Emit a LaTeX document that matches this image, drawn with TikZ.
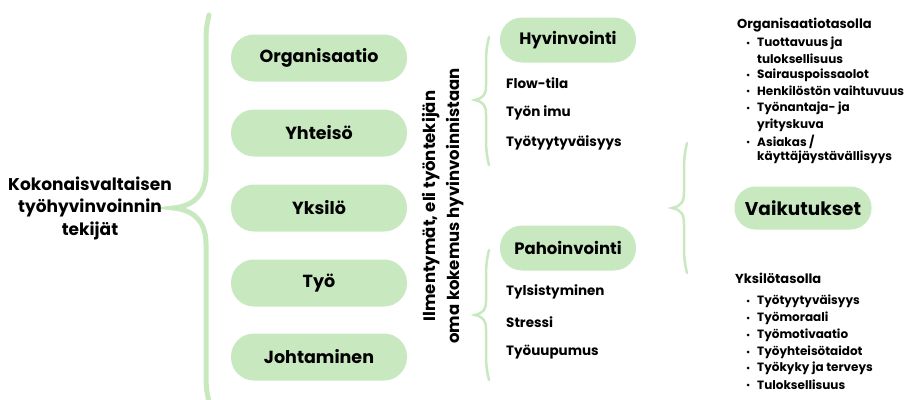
\documentclass[tikz,border=0pt]{standalone}
\usepackage{fontspec}
\setmainfont{Poppins}
\usetikzlibrary{calc}

\definecolor{leaf}{RGB}{200,233,192}

\begin{document}
\begin{tikzpicture}[x=1pt,y=-1pt,
  pill/.style={fill=leaf,rounded corners=23pt,minimum width=176pt,minimum height=47pt,font=\fontsize{17.5}{20}\selectfont\bfseries},
  subpill/.style={pill,minimum width=136pt,minimum height=45pt,rounded corners=22pt,font=\fontsize{16.5}{20}\selectfont\bfseries},
  item/.style={anchor=west,inner sep=0pt,font=\fontsize{13.5}{16}\selectfont\bfseries},
  fx/.style={anchor=west,inner sep=0pt,font=\fontsize{12}{14}\selectfont\bfseries},
  brace/.style={draw=leaf,line cap=round}]
\useasboundingbox (0,0) rectangle (904,399);

% braces: body x / tip x / top / tip / bottom / width / bend
\foreach \bx/\tx/\ta/\tm/\tb/\w/\r in {206/173/15/208/402/5/36, 486/475/37/100/165/2.5/14, 486/475/250/315/380/2.5/14, 684/672/143/208/273/2.5/16}
  \draw[brace,line width=\w pt] (\bx+3,\ta) .. controls (\bx,\ta+12) and (\bx,\ta+20) .. (\bx,\ta+30)
    -- (\bx,\tm-\r) .. controls (\bx,\tm-0.4*\r) and (\tx+0.6*\r,\tm-2) .. (\tx,\tm)
    .. controls (\tx+0.6*\r,\tm+2) and (\bx,\tm+0.4*\r) .. (\bx,\tm+\r)
    -- (\bx,\tb-30) .. controls (\bx,\tb-20) and (\bx,\tb-12) .. (\bx+3,\tb);

\node[align=center,font=\fontsize{17}{22.5}\selectfont\bfseries] (lead) at (90,208) {Kokonaisvaltaisen\\työhyvinvoinnin\\tekijät};

\foreach \y/\t [count=\i] in {58/Organisaatio, 133/Yhteisö, 208/Yksilö, 283/Työ, 357/Johtaminen}
  \node[pill] (f\i) at (319,\y) {\t};

\node[rotate=90,align=center,font=\fontsize{16.5}{24}\selectfont\bfseries] (ilm) at (443,206) {Ilmentymät, eli työntekijän\\oma kokemus hyvinvoinnistaan};

\node[subpill] (hyv) at (568,40) {Hyvinvointi};
\foreach \y/\t [count=\i] in {83/Flow-tila, 113/Työn imu, 143/Työtyytyväisyys}
  \node[item] (h\i) at (506,\y) {\t};

\node[subpill] (pah) at (568,248) {Pahoinvointi};
\foreach \y/\t [count=\i] in {292/Tylsistyminen, 322/Stressi, 352/Työuupumus}
  \node[item] (p\i) at (506,\y) {\t};

\node[pill,minimum width=137pt,minimum height=43pt,rounded corners=21pt,font=\fontsize{18.5}{22}\selectfont\bfseries] (vai) at (803,208) {Vaikutukset};

\node[fx,font=\fontsize{13}{15}\selectfont\bfseries] (org) at (737,25) {Organisaatiotasolla};
\foreach \y/\t [count=\i] in {43/Tuottavuus ja, 59/tuloksellisuus, 75/Sairauspoissaolot, 91/Henkilöstön vaihtuvuus, 108/Työnantaja- ja, 125/yrityskuva, 142/{Asiakas /}, 157/käyttäjäystävällisyys}
  \node[fx] (o\i) at (757,\y) {\t};
\foreach \y in {43, 75, 91, 108, 142} \fill (748,\y) circle [radius=1.5pt];

\node[fx,font=\fontsize{13}{15}\selectfont\bfseries] (yks) at (735,278) {Yksilötasolla};
\foreach \y/\t [count=\i] in {301/Työtyytyväisyys, 318/Työmoraali, 335/Työmotivaatio, 352/Työyhteisötaidot, 368/Työkyky ja terveys, 385/Tuloksellisuus}
  \node[fx] (y\i) at (757,\y) {\t};
\foreach \y in {301, 318, 335, 352, 368, 385} \fill (748,\y) circle [radius=1.5pt];
\end{tikzpicture}
\end{document}
